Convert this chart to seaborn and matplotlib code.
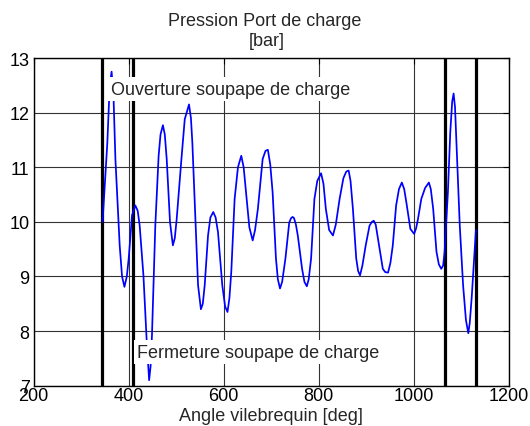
import matplotlib
matplotlib.use("Agg")
import matplotlib.pyplot as plt
import seaborn as sns
import pandas as pd

# Crank angle [deg] and charge-port pressure [bar]
angle = [345, 355, 360, 364, 368, 372, 381, 386, 391, 396, 400, 407, 414, 419,
         423, 431, 438, 443, 446, 449, 456, 463, 467, 472, 476, 480, 487, 493,
         497, 501, 511, 518, 527, 531, 534, 541, 546, 552, 556, 560, 567, 572,
         578, 583, 588, 597, 603, 608, 612, 616, 623, 630, 637, 642, 647, 654,
         661, 666, 672, 682, 688, 693, 698, 703, 710, 714, 718.5, 723, 730, 738,
         742, 745, 748, 752, 756, 765, 770, 775, 779, 784, 791, 797, 805, 810,
         815, 822, 830, 836, 844, 852, 858, 863, 867, 872, 879, 883, 887, 892,
         899, 907, 912, 916, 920, 927, 935, 940, 946, 951, 956, 963, 969, 975,
         980, 984.5, 993, 1001, 1005, 1009, 1016, 1024, 1032, 1036, 1041, 1048,
         1053, 1058, 1062, 1065, 1072, 1077, 1081, 1084, 1087, 1090, 1097, 1104,
         1110, 1115, 1118, 1122, 1129, 1131]
pressure = [10.0, 11.45, 12.5, 12.75, 12.3, 11.15, 9.57, 9.0, 8.81, 9.0, 9.33,
            10.12, 10.3, 10.2, 9.94, 9.02, 7.8, 7.1, 7.35, 7.93, 9.93, 11.21,
            11.6, 11.77, 11.6, 11.15, 9.99, 9.57, 9.7, 10.05, 11.15, 11.88, 12.15,
            11.9, 11.45, 9.93, 8.84, 8.40, 8.5, 8.84, 9.75, 10.08, 10.18, 10.08,
            9.81, 8.84, 8.45, 8.35, 8.6, 9.09, 10.42, 11.0, 11.21, 11.0, 10.54,
            9.9, 9.66, 9.85, 10.24, 11.15, 11.3, 11.32, 11.05, 10.54, 9.33, 8.95,
            8.78, 8.9, 9.33, 9.99, 10.07, 10.09, 10.07, 9.95, 9.75, 9.14, 8.9,
            8.82, 8.95, 9.33, 10.42, 10.75, 10.89, 10.7, 10.24, 9.85, 9.75, 9.95,
            10.42, 10.8, 10.92, 10.94, 10.75, 10.24, 9.33, 9.1, 9.02, 9.2, 9.57,
            9.93, 10.0, 10.02, 9.95, 9.57, 9.14, 9.08, 9.07, 9.25, 9.57, 10.3,
            10.6, 10.72, 10.6, 10.36, 9.87, 9.78, 9.88, 10.05, 10.42, 10.62,
            10.72, 10.6, 10.24, 9.45, 9.22, 9.14, 9.2, 9.45, 10.54, 11.64, 12.2,
            12.35, 12.1, 11.45, 9.93, 8.84, 8.2, 7.96, 8.15, 8.6, 9.57, 9.85]

# Valve opening / closing events [deg]
valve_events = [344, 410, 1066, 1131]

x_ticks = [200, 400, 600, 800, 1000, 1200]
y_ticks = [7, 8, 9, 10, 11, 12, 13]

sns.set_style("white")
plt.rcParams["font.family"] = ["Liberation Sans", "DejaVu Sans"]

df = pd.DataFrame({"angle": angle, "pressure": pressure})

fig = plt.figure(figsize=(5.3, 4.27), dpi=100)
ax = fig.add_axes([0.0636, 0.0944, 0.8962, 0.7674])

for v in valve_events:
    ax.axvline(v, color="black", lw=2.3, zorder=3)

sns.lineplot(data=df, x="angle", y="pressure", sort=False, estimator=None,
             color="#0000ff", lw=1.25, ax=ax, zorder=4)

ax.set_xlim(200, 1200)
ax.set_ylim(7, 13)
ax.set_xticks(x_ticks)
ax.set_yticks(y_ticks)
ax.grid(True, color="#333333", lw=0.8, zorder=1)
ax.set_axisbelow(True)
ax.tick_params(direction="in", length=4, width=0.8, colors="black",
               labelsize=13, top=True, right=True, pad=3)
ax.tick_params(axis="x", pad=1)
for s in ax.spines.values():
    s.set_color("black")
    s.set_linewidth(1.0)
    s.set_zorder(5)

ax.set_xlabel("Angle vilebrequin [deg]", fontsize=13, labelpad=2)
ax.set_ylabel("")

box = dict(facecolor="white", edgecolor="none", pad=2.5)
ax.text(362, 12.43, "Ouverture soupape de charge", fontsize=13,
        ha="left", va="center", bbox=box, zorder=6)
ax.text(418, 7.61, "Fermeture soupape de charge", fontsize=13,
        ha="left", va="center", bbox=box, zorder=6)

fig.text(0.5, 1 - 21 / 427, "Pression Port de charge", fontsize=13,
         ha="center", va="center")
fig.text(0.504, 1 - 41 / 427, "[bar]", fontsize=13, ha="center", va="center")

fig.savefig("out.png", dpi=100, facecolor="white")
